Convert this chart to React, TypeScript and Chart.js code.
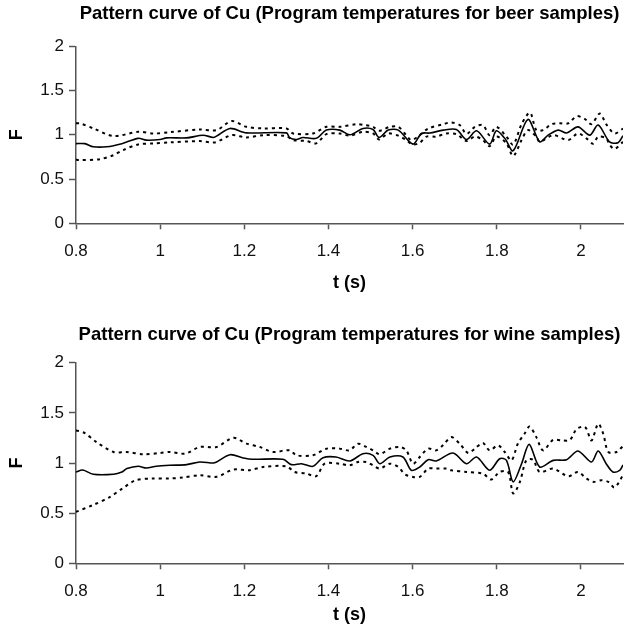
import React, { useEffect, useRef } from "react";
import { Chart, registerables } from "chart.js";

Chart.register(...registerables);

// ---------- Tick labels ----------
const xTickValues = [0.8, 1.0, 1.2, 1.4, 1.6, 1.8, 2.0];
const yTickValues = [0, 0.5, 1, 1.5, 2];

// ---------- Data: beer samples ----------
const beerMeanT = [0.80, 0.821, 0.841, 0.873, 0.909, 0.948, 0.967, 1.0, 1.015, 1.063, 1.102, 1.126, 1.134, 1.166, 1.205, 1.30, 1.308, 1.324, 1.339, 1.371, 1.395, 1.427, 1.451, 1.482, 1.506, 1.52, 1.542, 1.566, 1.601, 1.621, 1.641, 1.673, 1.704, 1.728, 1.752, 1.783, 1.799, 1.819, 1.839, 1.874, 1.902, 1.922, 1.946, 1.966, 1.993, 2.021, 2.041, 2.068, 2.088, 2.1];
const beerMeanF = [0.90, 0.90, 0.865, 0.865, 0.90, 0.96, 0.94, 0.947, 0.965, 0.965, 0.995, 0.97, 0.985, 1.072, 1.022, 1.022, 0.965, 0.947, 0.97, 0.96, 1.053, 1.053, 1.0, 1.072, 1.06, 0.97, 1.053, 1.053, 0.895, 1.015, 1.02, 1.053, 1.06, 0.947, 1.045, 0.895, 1.045, 0.96, 0.82, 1.174, 0.921, 0.996, 1.053, 1.02, 1.09, 0.996, 1.11, 0.921, 0.91, 0.99];

const beerUpperT = [0.80, 0.81, 0.841, 0.889, 0.948, 0.984, 1.023, 1.094, 1.134, 1.17, 1.205, 1.245, 1.30, 1.316, 1.363, 1.395, 1.427, 1.466, 1.486, 1.506, 1.52, 1.546, 1.566, 1.585, 1.597, 1.617, 1.637, 1.673, 1.692, 1.712, 1.728, 1.748, 1.767, 1.783, 1.799, 1.823, 1.839, 1.859, 1.879, 1.894, 1.91, 1.93, 1.95, 1.97, 1.99, 2.009, 2.025, 2.045, 2.06, 2.08, 2.1];
const beerUpperF = [1.13, 1.128, 1.072, 0.986, 1.034, 1.015, 1.03, 1.06, 1.053, 1.155, 1.09, 1.072, 1.072, 1.015, 1.015, 1.09, 1.09, 1.12, 1.11, 1.09, 1.045, 1.09, 1.09, 0.996, 0.94, 0.996, 1.07, 1.12, 1.14, 1.11, 1.01, 1.09, 1.11, 0.996, 1.09, 0.98, 0.89, 1.12, 1.25, 1.053, 1.053, 1.12, 1.13, 1.13, 1.21, 1.18, 1.12, 1.24, 1.12, 1.015, 1.07];

const beerLowerT = [0.80, 0.805, 0.857, 0.889, 0.912, 0.948, 0.984, 1.023, 1.094, 1.13, 1.17, 1.205, 1.245, 1.30, 1.316, 1.348, 1.371, 1.395, 1.427, 1.451, 1.482, 1.506, 1.52, 1.542, 1.566, 1.585, 1.601, 1.617, 1.633, 1.656, 1.68, 1.704, 1.728, 1.748, 1.767, 1.783, 1.799, 1.823, 1.839, 1.859, 1.874, 1.894, 1.902, 1.934, 1.97, 1.993, 2.013, 2.029, 2.041, 2.06, 2.068, 2.08, 2.1];
const beerLowerF = [0.72, 0.714, 0.725, 0.77, 0.827, 0.891, 0.903, 0.914, 0.929, 0.914, 0.996, 0.97, 0.996, 0.985, 0.94, 0.929, 0.903, 1.008, 1.015, 0.99, 1.034, 1.015, 0.947, 1.015, 0.99, 0.94, 0.89, 0.91, 0.98, 0.98, 1.015, 1.008, 0.93, 0.98, 0.94, 0.87, 0.98, 0.903, 0.76, 0.94, 1.053, 0.98, 0.921, 0.996, 0.94, 1.015, 0.96, 0.90, 0.98, 0.96, 0.89, 0.84, 0.92];

// ---------- Data: wine samples ----------
const wineMeanT = [0.80, 0.816, 0.841, 0.889, 0.909, 0.921, 0.948, 0.967, 0.991, 1.023, 1.063, 1.094, 1.126, 1.134, 1.166, 1.198, 1.22, 1.292, 1.312, 1.336, 1.363, 1.387, 1.418, 1.451, 1.482, 1.506, 1.522, 1.546, 1.577, 1.597, 1.617, 1.637, 1.656, 1.696, 1.728, 1.752, 1.783, 1.807, 1.823, 1.839, 1.859, 1.877, 1.902, 1.934, 1.966, 1.993, 2.025, 2.041, 2.06, 2.076, 2.092, 2.1];
const wineMeanF = [0.91, 0.93, 0.888, 0.888, 0.91, 0.944, 0.967, 0.95, 0.967, 0.977, 0.984, 1.01, 1.0, 1.01, 1.083, 1.05, 1.037, 1.037, 0.984, 0.993, 0.967, 1.053, 1.06, 1.02, 1.093, 1.076, 0.993, 1.06, 1.06, 0.927, 0.96, 1.033, 1.02, 1.1, 0.993, 1.06, 0.927, 1.043, 1.026, 0.812, 0.993, 1.186, 0.96, 1.026, 1.033, 1.12, 1.01, 1.12, 0.993, 0.911, 0.927, 0.98];

const wineUpperT = [0.80, 0.82, 0.848, 0.889, 0.92, 0.96, 1.0, 1.023, 1.06, 1.094, 1.134, 1.174, 1.205, 1.237, 1.268, 1.308, 1.324, 1.363, 1.395, 1.427, 1.45, 1.47, 1.49, 1.506, 1.522, 1.546, 1.57, 1.585, 1.601, 1.617, 1.637, 1.656, 1.672, 1.692, 1.712, 1.732, 1.748, 1.767, 1.783, 1.803, 1.819, 1.835, 1.85, 1.866, 1.878, 1.894, 1.91, 1.934, 1.954, 1.974, 1.99, 2.01, 2.025, 2.041, 2.053, 2.065, 2.085, 2.1];
const wineUpperF = [1.325, 1.30, 1.21, 1.11, 1.11, 1.087, 1.1, 1.11, 1.094, 1.16, 1.16, 1.252, 1.193, 1.16, 1.11, 1.127, 1.077, 1.077, 1.143, 1.143, 1.126, 1.192, 1.16, 1.126, 1.087, 1.143, 1.16, 1.126, 0.993, 1.06, 1.143, 1.126, 1.176, 1.258, 1.192, 1.1, 1.143, 1.2, 1.126, 1.176, 1.11, 1.026, 1.192, 1.292, 1.364, 1.258, 1.126, 1.23, 1.225, 1.23, 1.34, 1.358, 1.225, 1.391, 1.292, 1.11, 1.11, 1.17];

const wineLowerT = [0.80, 0.84, 0.88, 0.91, 0.942, 0.981, 1.021, 1.053, 1.094, 1.134, 1.174, 1.213, 1.245, 1.30, 1.32, 1.348, 1.371, 1.391, 1.427, 1.45, 1.47, 1.49, 1.506, 1.522, 1.546, 1.566, 1.582, 1.601, 1.617, 1.637, 1.656, 1.68, 1.692, 1.728, 1.767, 1.787, 1.807, 1.827, 1.839, 1.855, 1.87, 1.886, 1.902, 1.934, 1.97, 1.993, 2.013, 2.029, 2.049, 2.065, 2.08, 2.1];
const wineLowerF = [0.513, 0.58, 0.66, 0.745, 0.828, 0.845, 0.845, 0.855, 0.878, 0.862, 0.934, 0.928, 0.961, 0.967, 0.91, 0.894, 0.868, 0.993, 0.993, 0.977, 1.01, 1.01, 0.977, 0.944, 0.993, 0.96, 0.887, 0.861, 0.861, 0.944, 0.944, 0.944, 0.927, 0.911, 0.894, 0.835, 0.911, 0.911, 0.696, 0.812, 1.026, 1.033, 0.911, 0.944, 0.868, 0.911, 0.845, 0.812, 0.828, 0.812, 0.756, 0.878];

const beerTitle = "Pattern curve of Cu (Program temperatures for beer samples)";
const wineTitle = "Pattern curve of Cu (Program temperatures for wine samples)";
const xTitle = "t (s)";
const yTitle = "F";

const FONT = "'Liberation Sans', Arial, Helvetica, sans-serif";
const AXIS = "#555";
const TEXT = "#111";

function pts(t: number[], f: number[]) {
  return t.map((x, i) => ({ x, y: f[i] }));
}

const fmt = (v: any) => String(Math.round(Number(v) * 10) / 10);

type Cfg = {
  title: string;
  top: number;
  height: number;
  titlePadTop: number;
  titlePadBottom: number;
  xAxisHeight: number;
  tickPad: number;
  xTitlePadBottom: number;
  mean: { x: number; y: number }[];
  upper: { x: number; y: number }[];
  lower: { x: number; y: number }[];
};

function PatternChart({ cfg }: { cfg: Cfg }) {
  const ref = useRef<HTMLCanvasElement | null>(null);
  useEffect(() => {
    if (!ref.current) return;
    const dotted = {
      borderColor: "#000",
      borderWidth: 2,
      borderDash: [3, 4],
      pointRadius: 0,
      tension: 0.3,
      fill: false,
    };
    const chart = new Chart(ref.current, {
      type: "line",
      data: {
        datasets: [
          { ...dotted, data: cfg.upper },
          { ...dotted, data: cfg.lower },
          {
            data: cfg.mean,
            borderColor: "#000",
            borderWidth: 1.6,
            pointRadius: 0,
            tension: 0.3,
            fill: false,
          },
        ],
      },
      options: {
        responsive: false,
        animation: false,
        devicePixelRatio: 1,
        layout: { padding: { left: 0, right: 5, top: 0, bottom: 0 } },
        plugins: {
          legend: { display: false },
          tooltip: { enabled: false },
          title: {
            display: true,
            text: cfg.title,
            fullSize: false,
            color: "#000",
            font: { family: FONT, size: 18.5, weight: "bold" },
            padding: { top: cfg.titlePadTop, bottom: cfg.titlePadBottom },
          },
        },
        scales: {
          x: {
            type: "linear",
            min: 0.8,
            max: 2.1,
            afterBuildTicks: (s: any) => {
              s.ticks = xTickValues.map((value) => ({ value }));
            },
            afterFit: (s: any) => {
              s.height = cfg.xAxisHeight;
            },
            ticks: {
              autoSkip: false,
              padding: cfg.tickPad,
              color: TEXT,
              font: { family: FONT, size: 17 },
              maxRotation: 0,
              callback: fmt,
            },
            grid: {
              drawOnChartArea: false,
              drawTicks: true,
              tickLength: 6,
              tickColor: AXIS,
              tickWidth: 1.5,
            },
            border: { color: AXIS, width: 1.5 },
            title: {
              display: true,
              text: xTitle,
              color: "#000",
              font: { family: FONT, size: 18, weight: "bold" },
              padding: { top: 4, bottom: cfg.xTitlePadBottom },
            },
          },
          y: {
            min: 0,
            max: 2,
            afterBuildTicks: (s: any) => {
              s.ticks = yTickValues.map((value) => ({ value }));
            },
            afterFit: (s: any) => {
              s.width = 76;
            },
            ticks: {
              autoSkip: false,
              padding: 5,
              color: TEXT,
              font: { family: FONT, size: 17 },
              callback: fmt,
            },
            grid: {
              drawOnChartArea: false,
              drawTicks: true,
              tickLength: 7,
              tickColor: AXIS,
              tickWidth: 1.5,
            },
            border: { color: AXIS, width: 1.5 },
            title: {
              display: true,
              text: yTitle,
              color: "#000",
              font: { family: FONT, size: 18, weight: "bold" },
              padding: { top: 6, bottom: 0 },
            },
          },
        },
      },
    } as any);
    return () => chart.destroy();
  }, [cfg]);
  return (
    <canvas
      ref={ref}
      width={628}
      height={cfg.height}
      style={{ position: "absolute", left: 0, top: cfg.top, display: "block" }}
    />
  );
}

const beerCfg: Cfg = {
  title: beerTitle,
  top: 0,
  height: 298,
  titlePadTop: 2.9,
  titlePadBottom: 21.2,
  xAxisHeight: 74.7,
  tickPad: 12,
  xTitlePadBottom: 4.2,
  mean: pts(beerMeanT, beerMeanF),
  upper: pts(beerUpperT, beerUpperF),
  lower: pts(beerLowerT, beerLowerF),
};

const wineCfg: Cfg = {
  title: wineTitle,
  top: 305,
  height: 325,
  titlePadTop: 18.9,
  titlePadBottom: 16.6,
  xAxisHeight: 66.7,
  tickPad: 12,
  xTitlePadBottom: 4.2,
  mean: pts(wineMeanT, wineMeanF),
  upper: pts(wineUpperT, wineUpperF),
  lower: pts(wineLowerT, wineLowerF),
};

export default function App() {
  return (
    <div
      style={{
        position: "fixed",
        left: 0,
        top: 0,
        width: 628,
        height: 630,
        background: "#fff",
        overflow: "hidden",
      }}
    >
      <PatternChart cfg={beerCfg} />
      <PatternChart cfg={wineCfg} />
    </div>
  );
}
